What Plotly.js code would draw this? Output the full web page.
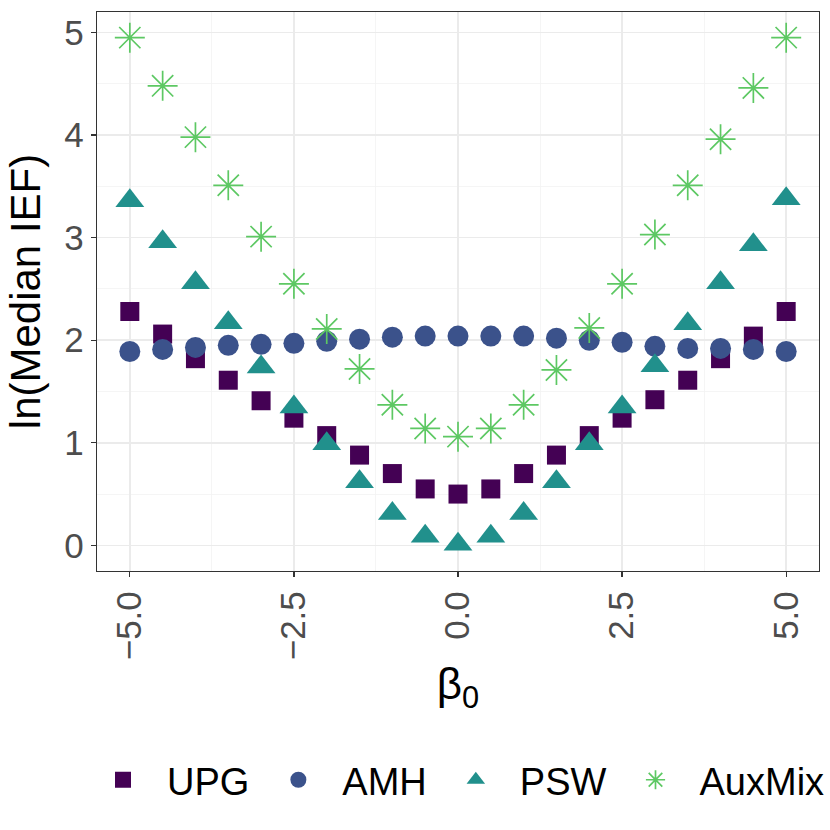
<!DOCTYPE html>
<html>
<head>
<meta charset="utf-8">
<script src="https://cdn.plot.ly/plotly-3.0.1.min.js"></script>
<style>
  html, body { margin: 0; padding: 0; background: #ffffff; }
  #chart { width: 830px; height: 830px; }
</style>
</head>
<body>
<div id="chart"></div>
<script>
'use strict';

// beta_0 values on the x axis
var beta0 = [-5, -4.5, -4, -3.5, -3, -2.5, -2, -1.5, -1, -0.5, 0,
	0.5, 1, 1.5, 2, 2.5, 3, 3.5, 4, 4.5, 5];

// ln(median IEF) per method
var upg = [2.28, 2.06, 1.82, 1.61, 1.41, 1.24, 1.07, 0.88, 0.70, 0.55, 0.50,
	0.55, 0.70, 0.88, 1.07, 1.24, 1.42, 1.61, 1.82, 2.04, 2.28];
var amh = [1.89, 1.91, 1.93, 1.95, 1.96, 1.97, 1.99, 2.01, 2.03, 2.04, 2.04,
	2.04, 2.04, 2.02, 2.00, 1.98, 1.94, 1.92, 1.92, 1.91, 1.89];
var psw = [3.36, 2.96, 2.56, 2.17, 1.74, 1.35, 0.99, 0.62, 0.31, 0.09, 0.01,
	0.09, 0.31, 0.62, 0.99, 1.35, 1.75, 2.16, 2.56, 2.93, 3.38];
var auxmix = [4.95, 4.48, 3.98, 3.51, 3.01, 2.55, 2.11, 1.72, 1.37, 1.14, 1.06,
	1.14, 1.37, 1.71, 2.12, 2.55, 3.03, 3.51, 3.96, 4.46, 4.95];

var seriesNames = ['UPG', 'AMH', 'PSW', 'AuxMix'];

// tick labels
var xTickVals = [-5, -2.5, 0, 2.5, 5];
var xTickText = ['\u22125.0', '\u22122.5', '0.0', '2.5', '5.0'];
var yTickVals = [0, 1, 2, 3, 4, 5];
var yTickText = ['0', '1', '2', '3', '4', '5'];

const drawChart = function () {
	var font = 'Liberation Sans, Arial, sans-serif';

	var traces = [
		{
			x: beta0, y: upg, name: seriesNames[0],
			type: 'scatter', mode: 'markers',
			marker: { symbol: 'square', size: 19, color: '#440154' },
		},
		{
			x: beta0, y: amh, name: seriesNames[1],
			type: 'scatter', mode: 'markers',
			marker: { symbol: 'circle', size: 21, color: '#3B528B' },
		},
		{
			x: beta0, y: psw, name: seriesNames[2],
			type: 'scatter', mode: 'markers',
			marker: { symbol: 'triangle-up', size: 25, color: '#21908C' },
		},
		{
			x: beta0, y: auxmix, name: seriesNames[3],
			type: 'scatter', mode: 'markers',
			marker: {
				symbol: 'asterisk-open', size: 25, color: '#5DC863',
				line: { color: '#5DC863', width: 1.7 },
			},
		},
	];

	var layout = {
		width: 830,
		height: 830,
		margin: { l: 97, r: 11, t: 12, b: 259, pad: 0 },
		paper_bgcolor: '#ffffff',
		plot_bgcolor: '#ffffff',
		font: { family: font, color: '#000000' },
		showlegend: true,
		// legend sits below the plot, anchored in the left margin so it may use the full width
		legend: {
			orientation: 'h',
			xref: 'paper',
			yref: 'paper',
			x: -0.0167,
			xanchor: 'left',
			y: -0.374,
			yanchor: 'middle',
			font: { family: font, size: 38, color: '#000000' },
			itemwidth: 78,
			tracegroupgap: 0,
		},
		xaxis: {
			range: [-5.5, 5.5],
			tickvals: xTickVals,
			ticktext: xTickText,
			tickangle: -90,
			tickfont: { family: font, size: 35, color: '#4D4D4D' },
			ticks: 'outside',
			ticklen: 5,
			tickwidth: 1.2,
			tickcolor: '#333333',
			showgrid: true,
			gridcolor: '#EBEBEB',
			gridwidth: 1.5,
			minor: { dtick: 1.25, tick0: -5, showgrid: true, gridcolor: '#F2F2F2', gridwidth: 0.8 },
			zeroline: false,
			showline: true,
			mirror: true,
			linecolor: '#333333',
			linewidth: 1.2,
			title: {
				text: '\u03B2<sub>0</sub>',
				font: { family: font, size: 44, color: '#000000' },
				standoff: 8,
			},
		},
		yaxis: {
			range: [-0.25, 5.2],
			tickvals: yTickVals,
			ticktext: yTickText,
			tickfont: { family: font, size: 35, color: '#4D4D4D' },
			ticks: 'outside',
			ticklen: 5,
			tickwidth: 1.2,
			tickcolor: '#333333',
			showgrid: true,
			gridcolor: '#EBEBEB',
			gridwidth: 1.5,
			minor: { dtick: 0.5, tick0: 0, showgrid: true, gridcolor: '#F2F2F2', gridwidth: 0.8 },
			zeroline: false,
			showline: true,
			mirror: true,
			linecolor: '#333333',
			linewidth: 1.2,
			title: {
				text: 'ln(Median IEF)',
				font: { family: font, size: 42, color: '#000000' },
				standoff: 10,
			},
		},
	};

	var config = { staticPlot: true };
	Plotly.newPlot('chart', traces, layout, config);
};

document.addEventListener('DOMContentLoaded', drawChart);
</script>
</body>
</html>
